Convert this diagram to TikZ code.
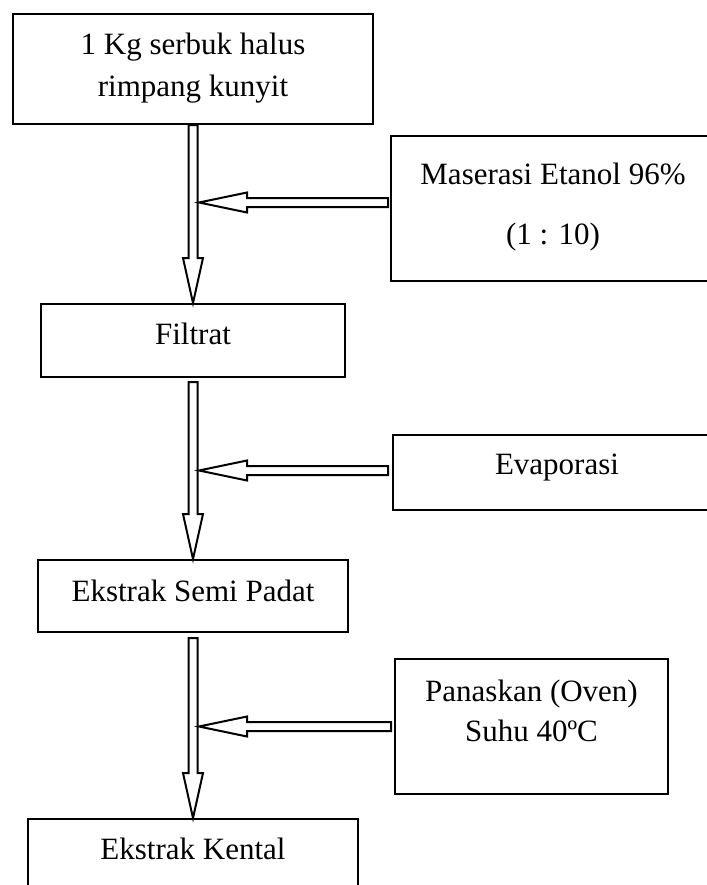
\documentclass[tikz,border=0pt]{standalone}
\usepackage{fontspec}
\setmainfont{Liberation Serif}
\usetikzlibrary{calc,positioning}
\newcommand{\flowdown}[2]{%
  \draw[blockarrow] ($(#1)+(-4.5,0)$) -- ($(#2)+(-4.5,-45)$) -- ($(#2)+(-10,-45)$) -- (#2)
    -- ($(#2)+(10,-45)$) -- ($(#2)+(4.5,-45)$) -- ($(#1)+(4.5,0)$) -- cycle;}
\newcommand{\flowleft}[2]{%
  \draw[blockarrow] ($(#1)+(0,-4.5)$) -- ($(#2)+(48,-4.5)$) -- ($(#2)+(48,-10)$) -- (#2)
    -- ($(#2)+(48,10)$) -- ($(#2)+(48,4.5)$) -- ($(#1)+(0,4.5)$) -- cycle;}

\begin{document}
\begin{tikzpicture}[x=0.5pt, y=-0.5pt,
              box/.style={draw, line width=1pt, inner sep=0pt, anchor=north west,
                          align=center, font=\fontsize{15.5}{21}\selectfont},
              blockarrow/.style={draw, line width=1pt, fill=white, line join=miter},
             ]
\useasboundingbox (0,0) rectangle (707,885);
\node[box, minimum width=180pt, text height=41pt, text depth=14pt] (kunyit) at (12,13) {1 Kg serbuk halus\\rimpang kunyit};
\node[box, minimum width=162pt, text height=54pt, text depth=18.5pt] (maserasi) at (390,135) {Maserasi Etanol 96\%\\[9pt](1 : 10)};
\node[box, minimum width=152pt, text height=20pt, text depth=16.5pt] (filtrat) at (40,303) {Filtrat};
\node[box, minimum width=164pt, text height=19.5pt, text depth=18pt] (evaporasi) at (392,434) {Evaporasi};
\node[box, minimum width=155pt, text height=20.5pt, text depth=15.5pt] (semipadat) at (37,559) {Ekstrak Semi Padat};
\node[box, minimum width=136.5pt, text height=41pt, text depth=26.5pt] (oven) at (394,658) {Panaskan (Oven)\\[-1pt]Suhu 40ºC};
\node[box, minimum width=165pt, text height=20pt, text depth=18.5pt] (kental) at (27,818) {Ekstrak Kental};

\coordinate (spine) at (199,0);
\path (filtrat.south) ++(0,4) coordinate (filtrat-out);
\path (semipadat.south) ++(0,5) coordinate (semipadat-out);
\path (maserasi.west) ++(-2,-6) coordinate (maserasi-out);
\path (evaporasi.west) ++(-4,-2) coordinate (evaporasi-out);
\path (oven.west) ++(-3,0) coordinate (oven-out);

\flowdown{kunyit.south}{filtrat.north}
\flowdown{filtrat-out}{semipadat.north}
\flowdown{semipadat-out}{kental.north}
\flowleft{maserasi-out}{spine |- maserasi-out}
\flowleft{evaporasi-out}{spine |- evaporasi-out}
\flowleft{oven-out}{spine |- oven-out}
\end{tikzpicture}
\end{document}
